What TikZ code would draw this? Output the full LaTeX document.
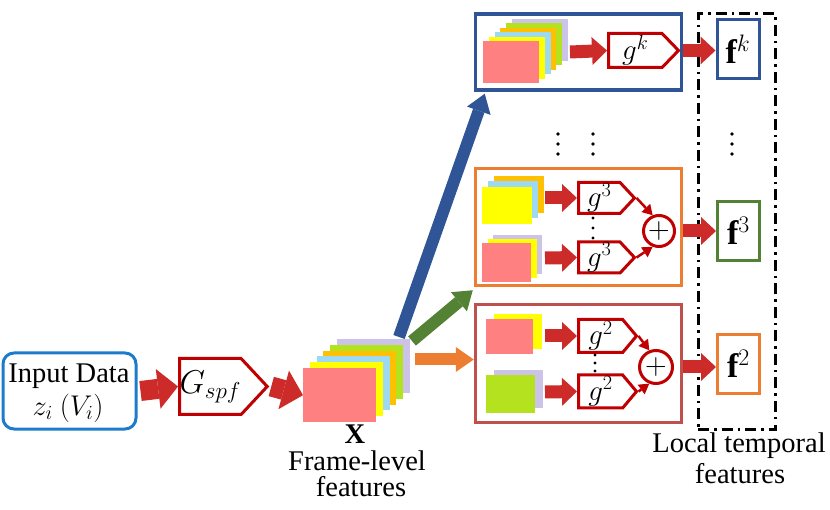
\RequirePackage{fix-cm}
\documentclass[tikz,border=0pt]{standalone}
\usepackage{fontspec}
\setmainfont{Liberation Serif}
\usetikzlibrary{arrows.meta,shapes.symbols}
\definecolor{fpink}{HTML}{FF8080}
\definecolor{fyellow}{HTML}{FFFF00}
\definecolor{fblue}{HTML}{9DD9F0}
\definecolor{forange}{HTML}{FFC000}
\definecolor{fgreen}{HTML}{B5E21E}
\definecolor{flav}{HTML}{CCC3E8}
\definecolor{arrred}{HTML}{CD2A2A}
\definecolor{pentred}{HTML}{C00000}
\definecolor{inblue}{HTML}{1C7CCB}
\definecolor{dblue}{HTML}{2F5597}
\definecolor{dgreen}{HTML}{548235}
\definecolor{orng}{HTML}{ED7D31}
\definecolor{boxred}{HTML}{C0504D}
\begin{document}
\begin{tikzpicture}[x=1pt,y=-1pt,
  every node/.style={font=\fontsize{28.5}{30}\selectfont, inner sep=0pt},
  lbl/.style={anchor=base},
  pent/.style={shape=signal, signal to=east, draw=pentred, line width=3pt, fill=white, inner sep=0pt, anchor=west},
  gfont/.style={font=\fontsize{29}{30}\selectfont},
  fbox/.style={draw=#1, line width=3pt, minimum width=42pt, minimum height=59pt, fill=white, font=\fontsize{34}{34}\selectfont},
  bigbox/.style={draw=#1, line width=3.5pt, minimum width=206pt},
  sumnode/.style={circle, draw=pentred, line width=3pt, fill=white, minimum size=31pt, font=\fontsize{30}{30}\selectfont},
  blkA/.style={line width=20pt, draw=arrred, -{Triangle[length=20pt,width=40pt,line width=0pt]}},
  blkB/.style={line width=13pt, draw=arrred, -{Triangle[length=15pt,width=28pt,line width=0pt]}},
  thinarr/.style={line width=2.5pt, draw=pentred, -{Triangle[length=10pt,width=12pt,line width=0pt]}},
  colarr/.style={line width=12pt, draw=#1, -{Triangle[length=18pt,width=25pt,line width=0pt]}},
  dotc/.style={fill=black}
]
\useasboundingbox (0,0) rectangle (830,510);

% ---------- input and G_spf ----------
\node[draw=inblue, line width=3pt, rounded corners=11pt, minimum width=133pt, minimum height=76pt] (in) at (69.5,391) {};
\node[lbl] (in1) at (69,383) {Input Data};
\node[lbl] (in2) at (68,415) {$z_i\ (V_i)$};
\node[pent, signal pointer angle=94, minimum width=87pt, minimum height=56pt, font=\fontsize{33}{34}\selectfont] (G) at (178,386.5) {$G_{spf}$};

% ---------- main frame stack ----------
\foreach \i/\c in {5/flav,4/fgreen,3/forange,2/fblue,1/fyellow}
  \fill[\c] (303+6.8*\i,368-5.8*\i) rectangle ++(73,54);
\node[fill=fpink, minimum width=73pt, minimum height=54pt, anchor=north west] (X) at (303,368) {};
\node[lbl] (Xl) at (355,443) {\textbf{X}};
\node[lbl] (fl1) at (357,470) {Frame-level};
\node[lbl] (fl2) at (361,496) {features};

\draw[blkA] ([xshift=3pt]in.east) -- (G.west);
\draw[blkA] ([xshift=2pt]G.east) -- (X.west);

% ---------- boxes ----------
\node[bigbox=dblue, minimum height=76pt] (bb) at (578.5,52) {};
\node[bigbox=orng, minimum height=117pt] (ob) at (578.5,227) {};
\node[bigbox=boxred, minimum height=118pt] (rb) at (578.5,363.5) {};

% coloured arrows
\coordinate (sb) at (399,337);
\coordinate (sg) at (412,341);
\coordinate (so) at (415,359.5);
\draw[colarr=dblue] (sb) -- ([xshift=11pt,yshift=-2pt]bb.south west);
\draw[colarr=dgreen] (sg) -- ([xshift=-1pt,yshift=-3pt]ob.south west);
\draw[colarr=orng] (so) -- (rb.west |- so);

% ---------- blue box content ----------
\foreach \i/\c in {5/flav,4/fgreen,3/forange,2/fblue,1/fyellow}
  \fill[\c] (483+5.8*\i,41-4.4*\i) rectangle ++(56,42);
\node[fill=fpink, minimum width=56pt, minimum height=42pt, anchor=north west] (kp) at (483,41) {};
\node[pent, gfont, signal pointer angle=92, minimum width=70pt, minimum height=34pt] (gk) at (607,50.5) {$g^k$};
\coordinate (ka) at (570,52);
\draw[blkB] (ka) -- (gk.west);

% ---------- orange box content ----------
\foreach \i/\c in {2/forange,1/fblue}
  \fill[\c] (482+6*\i,187-5.5*\i) rectangle ++(50,37);
\node[fill=fyellow, minimum width=50pt, minimum height=37pt, anchor=north west] (o1) at (482,187) {};
\foreach \i/\c in {2/flav,1/fyellow}
  \fill[\c] (482+5.5*\i,243-4*\i) rectangle ++(49,39);
\node[fill=fpink, minimum width=49pt, minimum height=39pt, anchor=north west] (o2) at (482,243) {};
\node[pent, gfont, signal pointer angle=94, minimum width=56pt, minimum height=31pt] (g3a) at (577,198) {$g^3$};
\node[pent, gfont, signal pointer angle=94, minimum width=56pt, minimum height=31pt] (g3b) at (577,257.5) {$g^3$};
\coordinate (oa1) at (545,198);
\coordinate (oa2) at (545,258);
\draw[blkB] (oa1) -- (g3a.west);
\draw[blkB] (oa2) -- (g3b.west);
\node[sumnode] (s3) at (659,231) {$+$};
\draw[thinarr] (g3a.east) -- (s3.112);
\draw[thinarr] (g3b.east) -- (s3.248);
\foreach \y in {218,228,238} \fill[dotc] (593,\y) circle (1.7);

% ---------- red box content ----------
\fill[fyellow] (494,314) rectangle ++(48,35);
\node[fill=fpink, minimum width=47pt, minimum height=35pt, anchor=north west] (r1) at (486,319) {};
\fill[flav] (494,370) rectangle ++(49,38);
\node[fill=fgreen, minimum width=49pt, minimum height=38pt, anchor=north west] (r2) at (486,375) {};
\node[pent, gfont, signal pointer angle=100, minimum width=58pt, minimum height=33pt] (g2a) at (577,336) {$g^2$};
\node[pent, gfont, signal pointer angle=100, minimum width=58pt, minimum height=33pt] (g2b) at (577,391.5) {$g^2$};
\coordinate (ra1) at (545,336);
\coordinate (ra2) at (545,392);
\draw[blkB] (ra1) -- (g2a.west);
\draw[blkB] (ra2) -- (g2b.west);
\node[sumnode, minimum size=33pt] (s2) at (656,367) {$+$};
\draw[thinarr] (g2a.east) -- (s2.112);
\draw[thinarr] (g2b.east) -- (s2.248);
\foreach \y in {355,363,371} \fill[dotc] (595,\y) circle (1.7);

% ---------- local temporal features ----------
\node[draw=black, line width=3pt, dash pattern=on 11pt off 5pt on 2.5pt off 5pt,
      minimum width=77pt, minimum height=415pt] (lt) at (736.5,221.5) {};
\node[fbox=dblue] (fk) at (738,49.5) {$\mathbf{f}^k$};
\node[fbox=dgreen] (f3) at (738.5,231) {$\mathbf{f}^3$};
\node[fbox=orng] (f2) at (738.5,364) {$\mathbf{f}^2$};
\node[lbl] (lt1) at (739,453) {Local temporal};
\node[lbl] (lt2) at (740,483) {features};

\draw[blkB] (bb.east |- gk) -- (fk.west |- gk);
\draw[blkB] (ob.east |- s3) -- (f3.west);
\draw[blkB] (rb.east |- s2) -- (f2.west |- s2);

% ---------- ellipsis dots ----------
\foreach \x in {558,593,732}
  \foreach \y in {134,144,154}
    \fill[dotc] (\x,\y) circle (1.8);
\end{tikzpicture}
\end{document}
